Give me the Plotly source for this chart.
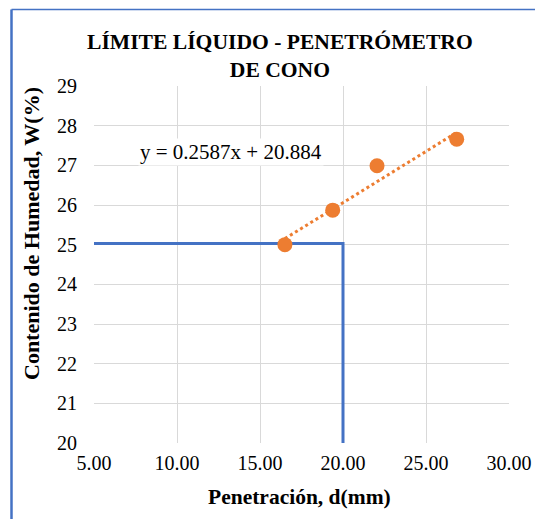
import plotly.graph_objects as go

# Data
penetracion = [16.5, 19.38, 22.05, 26.85]
humedad = [25.0, 25.87, 26.99, 27.66]
slope = 0.2587
intercept = 20.884
eq_text = "y = 0.2587x + 20.884"
ll_x = 20.0
ll_y = 25.03
x_ticks = [5, 10, 15, 20, 25, 30]
y_ticks = [20, 21, 22, 23, 24, 25, 26, 27, 28, 29]

FONT = "Liberation Serif"
BLUE = "#4472C4"
ORANGE = "#ED7D31"

fig = go.Figure()

# Liquid limit reference lines
fig.add_trace(go.Scatter(x=[x_ticks[0], ll_x, ll_x], y=[ll_y, ll_y, y_ticks[0]],
                         mode="lines", line=dict(color=BLUE, width=3),
                         hoverinfo="skip", showlegend=False))

# Trend line
tx = [min(penetracion), max(penetracion)]
ty = [slope * v + intercept for v in tx]
fig.add_trace(go.Scatter(x=tx, y=ty, mode="lines",
                         line=dict(color=ORANGE, width=3, dash="dot"),
                         showlegend=False))

# Data points
fig.add_trace(go.Scatter(x=penetracion, y=humedad, mode="markers",
                         marker=dict(color=ORANGE, size=15),
                         showlegend=False))

# page body offset of 8px is accounted for in the margins
OFF = 8
PL, PT, PW, PH = 94, 86, 415, 357

fig.update_layout(
    width=543 - OFF, height=519 - OFF,
    margin=dict(l=PL - OFF, r=543 - OFF - (PL - OFF) - PW, t=PT - OFF,
                b=519 - OFF - (PT - OFF) - PH, pad=0),
    paper_bgcolor="white", plot_bgcolor="white",
    font=dict(family=FONT, size=20, color="black"),
    xaxis=dict(range=[5, 30], tickvals=x_ticks, tickformat=".2f",
               showgrid=True, gridcolor="#d9d9d9", gridwidth=1.3,
               zeroline=False, showline=False, ticks="",
               ticklabelstandoff=6, tickfont=dict(size=20, family=FONT)),
    yaxis=dict(range=[20, 29], tickvals=y_ticks,
               showgrid=True, gridcolor="#d9d9d9", gridwidth=1.3,
               zeroline=False, showline=False, ticks="",
               ticklabelstandoff=16, tickfont=dict(size=20, family=FONT)),
    annotations=[
        dict(text="<b>LÍMITE LÍQUIDO - PENETRÓMETRO<br>DE CONO</b>",
             xref="paper", yref="paper", x=0.448, y=1.084,
             xanchor="center", yanchor="middle", showarrow=False,
             font=dict(size=21.6, family=FONT)),
        dict(text="<b>Penetración, d(mm)</b>", xref="paper", yref="paper",
             x=0.496, y=-0.151, xanchor="center", yanchor="middle",
             showarrow=False, font=dict(size=21.5, family=FONT)),
        dict(text="<b>Contenido de Humedad, W(%)</b>", xref="paper", yref="paper",
             x=-0.152, y=0.588, xanchor="center", yanchor="middle",
             textangle=-90, showarrow=False, font=dict(size=22, family=FONT)),
        dict(text=eq_text, x=13.25, y=27.34, xref="x", yref="y",
             xanchor="center", yanchor="middle", showarrow=False,
             bgcolor="white", font=dict(size=21, family=FONT)),
    ],
    shapes=[
        dict(type="line", xref="paper", yref="paper",
             x0=(11.5 - PL) / PW, x1=(11.5 - PL) / PW,
             y0=(PT + PH - 9.5) / PH, y1=(PT + PH - 530) / PH,
             line=dict(color=BLUE, width=2.5)),
        dict(type="line", xref="paper", yref="paper",
             x0=(11.5 - PL) / PW, x1=(545 - PL) / PW,
             y0=(PT + PH - 9.5) / PH, y1=(PT + PH - 9.5) / PH,
             line=dict(color=BLUE, width=1.5)),
    ],
)

fig.write_html("out.html")
